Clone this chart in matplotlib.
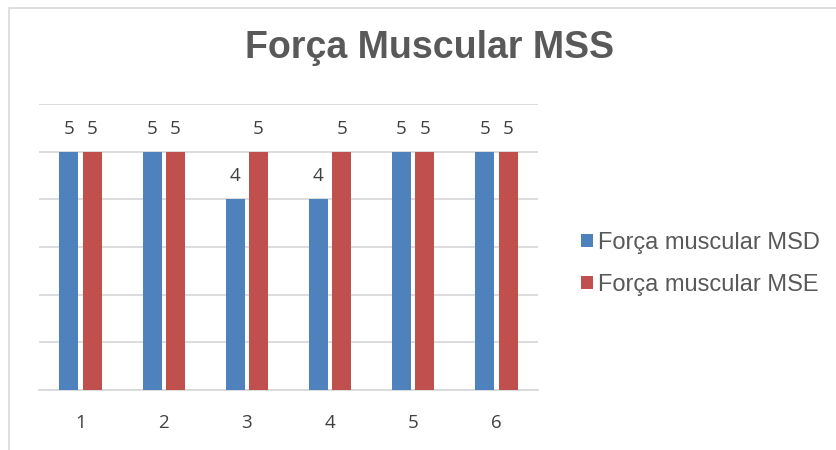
import numpy as np
import matplotlib.pyplot as plt
from matplotlib.patches import Rectangle

categories = ['1', '2', '3', '4', '5', '6']
msd = [5, 5, 4, 4, 5, 5]
mse = [5, 5, 5, 5, 5, 5]
series_names = ['Força muscular MSD', 'Força muscular MSE']

fig = plt.figure(figsize=(8.36, 4.5), dpi=100)
ax = fig.add_axes([39/836, 60/450, 499/836, 286/450])

# Figure frame (light gray border, only left/top visible in the reference)
fig.patches.append(Rectangle((9/836, -0.1), 1.0, (450 - 8)/450 + 0.1,
                             transform=fig.transFigure, fill=False,
                             edgecolor='#d9d9d9', linewidth=1.2))

x = np.arange(len(categories))
w = 0.228
off = 0.14
b1 = ax.bar(x - off, msd, w, color='#4f81bd', label=series_names[0], zorder=3)
b2 = ax.bar(x + off, mse, w, color='#c0504d', label=series_names[1], zorder=3)

for bars in (b1, b2):
    ax.bar_label(bars, padding=10, fontsize=13.5, color='#404040', family='Open Sans')

ax.set_xlim(-0.5, len(categories) - 0.5)
ax.set_ylim(0, 6)
ax.set_yticks(np.arange(0, 7, 1))
ax.yaxis.grid(True, color='#d9d9d9', linewidth=1.3, zorder=0)
ax.tick_params(axis='y', left=False, labelleft=False)
ax.tick_params(axis='x', length=0, pad=17, labelsize=13.5, labelcolor='#404040')
ax.set_xticks(x)
ax.set_xticklabels(categories, family='Open Sans')
for s in ['top', 'right', 'left']:
    ax.spines[s].set_visible(False)
ax.spines['bottom'].set_color('#d9d9d9')
ax.spines['bottom'].set_linewidth(1.3)

fig.text(430/836, 1 - 48/450, 'Força Muscular MSS', ha='center', va='center',
         fontsize=27, fontweight='bold', color='#595959', family='Liberation Sans')

leg = fig.legend(handles=[b1, b2], loc='center left',
                 bbox_to_anchor=(560/836, 1 - 264/450), frameon=False,
                 prop={'family': 'Liberation Sans', 'size': 17},
                 labelcolor='#595959', handlelength=0.5, handleheight=0.5,
                 handletextpad=0.2, labelspacing=0.85)

fig.savefig('out.png', dpi=100)
